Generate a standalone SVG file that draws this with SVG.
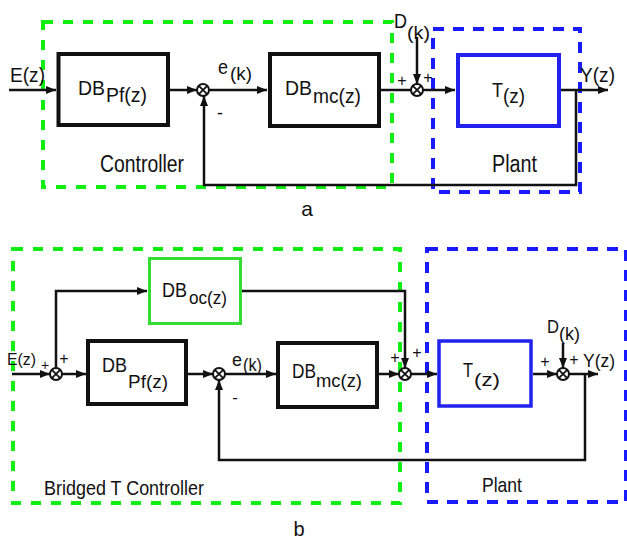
<svg xmlns="http://www.w3.org/2000/svg" width="627" height="542" viewBox="0 0 627 542">
<style>
text{font-family:"Liberation Sans",Arial,sans-serif;fill:#111}
.blk{fill:#fff;stroke:#111;stroke-width:4}
.gdash{fill:none;stroke:#11ee11;stroke-width:4;stroke-dasharray:10 10}
.bdash{fill:none;stroke:#1a1aff;stroke-width:4;stroke-dasharray:11 9}
.c{fill:none;stroke:#111;stroke-width:2.5}
.ca{fill:none;stroke:#111;stroke-width:2.5;marker-end:url(#ah)}
.sum circle{fill:#fff;stroke:#111;stroke-width:2}
.sum path{stroke:#111;stroke-width:1.8}
.pm{font-size:16px;text-anchor:middle}
</style>
<defs>
<marker id="ah" markerWidth="10" markerHeight="8" refX="10" refY="4" orient="auto" markerUnits="userSpaceOnUse"><path d="M0,0 L10,4 L0,8 z" fill="#111"/></marker>
</defs>
<rect width="627" height="542" fill="#fff"/>

<!-- ===== (a) ===== -->
<g id="a-controller-region">
<rect class="gdash" x="43" y="22" width="349" height="165"/>
<text x="100" y="172" font-size="23" textLength="84" lengthAdjust="spacingAndGlyphs">Controller</text>
</g>
<g id="a-plant-region">
<rect class="bdash" x="433" y="29" width="147" height="163"/>
<text x="492" y="172" font-size="23" textLength="45" lengthAdjust="spacingAndGlyphs">Plant</text>
</g>

<g id="a-connectors">
<line class="ca" x1="9" y1="90" x2="56" y2="90"/>
<line class="ca" x1="170" y1="90" x2="197" y2="90"/>
<line class="ca" x1="209" y1="90" x2="267" y2="90"/>
<line class="c" x1="381" y1="90" x2="411" y2="90"/>
<line class="ca" x1="417" y1="37" x2="417" y2="84"/>
<line class="ca" x1="423" y1="90" x2="455" y2="90"/>
<line class="ca" x1="561" y1="90" x2="608" y2="90"/>
<polyline class="ca" points="576,90 576,185 204,185 204,96"/>
</g>

<g id="a-input"><text x="10" y="82" font-size="21" textLength="35" lengthAdjust="spacingAndGlyphs">E(z)</text></g>

<g id="a-DBPf">
<rect class="blk" x="58.5" y="54" width="109.5" height="71"/>
<text x="78" y="95" font-size="21" textLength="27" lengthAdjust="spacingAndGlyphs">DB</text>
<text x="106" y="102" font-size="20" textLength="41" lengthAdjust="spacingAndGlyphs">Pf(z)</text>
</g>

<g id="a-sum1" class="sum">
<circle cx="203" cy="90" r="6"/>
<path d="M198.8,85.8 L207.2,94.2 M207.2,85.8 L198.8,94.2"/>
</g>
<g id="a-ek">
<text x="218" y="74" font-size="20" textLength="10" lengthAdjust="spacingAndGlyphs">e</text>
<text x="230" y="80" font-size="19" textLength="22" lengthAdjust="spacingAndGlyphs">(k)</text>
<text x="220" y="119" font-size="18" text-anchor="middle">-</text>
</g>

<g id="a-DBmc">
<rect class="blk" x="270" y="54" width="109" height="72"/>
<text x="285" y="95" font-size="21" textLength="27" lengthAdjust="spacingAndGlyphs">DB</text>
<text x="313" y="103" font-size="20" textLength="48" lengthAdjust="spacingAndGlyphs">mc(z)</text>
</g>

<g id="a-sum2" class="sum">
<circle cx="417" cy="90" r="6"/>
<path d="M412.8,85.8 L421.2,94.2 M421.2,85.8 L412.8,94.2"/>
<text class="pm" x="402" y="86">+</text>
<text class="pm" x="428" y="83">+</text>
</g>
<g id="a-Dk">
<text x="394" y="28" font-size="21" textLength="13" lengthAdjust="spacingAndGlyphs">D</text>
<text x="407" y="39" font-size="19" textLength="23" lengthAdjust="spacingAndGlyphs">(k)</text>
</g>

<g id="a-T">
<rect x="458" y="55" width="101" height="71" fill="#fff" stroke="#2222ee" stroke-width="4"/>
<text x="492" y="97" font-size="21" textLength="11" lengthAdjust="spacingAndGlyphs">T</text>
<text x="503" y="103" font-size="20" textLength="22" lengthAdjust="spacingAndGlyphs">(z)</text>
</g>
<g id="a-output"><text x="580" y="82" font-size="21" textLength="35" lengthAdjust="spacingAndGlyphs">Y(z)</text></g>
<text x="307" y="216" font-size="21" text-anchor="middle">a</text>

<!-- ===== (b) ===== -->
<g id="b-controller-region">
<rect class="gdash" x="13" y="249" width="387" height="254"/>
<text x="44" y="495" font-size="21" textLength="160" lengthAdjust="spacingAndGlyphs">Bridged T Controller</text>
</g>
<g id="b-plant-region">
<rect class="bdash" x="427" y="249" width="199" height="253"/>
<text x="482" y="492" font-size="21" textLength="40" lengthAdjust="spacingAndGlyphs">Plant</text>
</g>

<g id="b-connectors">
<line class="ca" x1="12" y1="374" x2="50" y2="374"/>
<line class="ca" x1="62" y1="374" x2="86" y2="374"/>
<polyline class="ca" points="56,368 56,291 147,291"/>
<polyline class="ca" points="242,291 405,291 405,368"/>
<line class="ca" x1="188" y1="374" x2="213" y2="374"/>
<line class="ca" x1="225" y1="374" x2="276" y2="374"/>
<line class="ca" x1="379" y1="374" x2="399" y2="374"/>
<line class="ca" x1="411" y1="374" x2="437" y2="374"/>
<line class="ca" x1="533" y1="374" x2="557" y2="374"/>
<line class="ca" x1="563" y1="343" x2="563" y2="368"/>
<line class="ca" x1="569" y1="374" x2="598" y2="374"/>
<polyline class="ca" points="585,374 585,460 219,460 219,380"/>
</g>

<g id="b-input">
<text x="7" y="365" font-size="17" textLength="29" lengthAdjust="spacingAndGlyphs">E(z)</text>
</g>
<g id="b-sum0" class="sum">
<circle cx="56" cy="374" r="6"/>
<path d="M51.8,369.8 L60.2,378.2 M60.2,369.8 L51.8,378.2"/>
<text x="45" y="370" font-size="14" text-anchor="middle">+</text>
<text class="pm" x="64" y="364">+</text>
</g>

<g id="b-DBoc">
<rect x="149.5" y="258.5" width="91" height="65" fill="#fff" stroke="#33dd33" stroke-width="3"/>
<text x="162" y="297" font-size="20" textLength="25" lengthAdjust="spacingAndGlyphs">DB</text>
<text x="189" y="304" font-size="19" textLength="38" lengthAdjust="spacingAndGlyphs">oc(z)</text>
</g>

<g id="b-DBPf">
<rect class="blk" x="88" y="341" width="98" height="63"/>
<text x="102" y="372" font-size="20" textLength="25" lengthAdjust="spacingAndGlyphs">DB</text>
<text x="128" y="388" font-size="19" textLength="40" lengthAdjust="spacingAndGlyphs">Pf(z)</text>
</g>

<g id="b-sum1" class="sum">
<circle cx="219" cy="374" r="6"/>
<path d="M214.8,369.8 L223.2,378.2 M223.2,369.8 L214.8,378.2"/>
</g>
<g id="b-ek">
<text x="232" y="366" font-size="19" textLength="10" lengthAdjust="spacingAndGlyphs">e</text>
<text x="243" y="371" font-size="18" textLength="19" lengthAdjust="spacingAndGlyphs">(k)</text>
<text x="235" y="403" font-size="17" text-anchor="middle">-</text>
</g>

<g id="b-DBmc">
<rect class="blk" x="278" y="343" width="99" height="64"/>
<text x="292" y="378" font-size="20" textLength="24" lengthAdjust="spacingAndGlyphs">DB</text>
<text x="316" y="387" font-size="19" textLength="46" lengthAdjust="spacingAndGlyphs">mc(z)</text>
</g>

<g id="b-sum2" class="sum">
<circle cx="405" cy="374" r="6"/>
<path d="M400.8,369.8 L409.2,378.2 M409.2,369.8 L400.8,378.2"/>
<text class="pm" x="395" y="363">+</text>
<text class="pm" x="417" y="358">+</text>
</g>

<g id="b-T">
<rect x="439" y="341" width="92" height="65" fill="#fff" stroke="#2222ee" stroke-width="3.5"/>
<text x="463" y="377" font-size="20" textLength="10" lengthAdjust="spacingAndGlyphs">T</text>
<text x="474" y="386" font-size="19" textLength="26" lengthAdjust="spacingAndGlyphs">(z)</text>
</g>

<g id="b-sum3" class="sum">
<circle cx="563" cy="374" r="6"/>
<path d="M558.8,369.8 L567.2,378.2 M567.2,369.8 L558.8,378.2"/>
<text class="pm" x="545" y="367">+</text>
<text class="pm" x="574" y="365">+</text>
</g>
<g id="b-Dk">
<text x="547" y="333" font-size="19" textLength="12" lengthAdjust="spacingAndGlyphs">D</text>
<text x="559" y="340" font-size="18" textLength="21" lengthAdjust="spacingAndGlyphs">(k)</text>
</g>
<g id="b-output"><text x="583" y="367" font-size="19" textLength="32" lengthAdjust="spacingAndGlyphs">Y(z)</text></g>
<text x="299" y="536" font-size="20" text-anchor="middle">b</text>
</svg>
